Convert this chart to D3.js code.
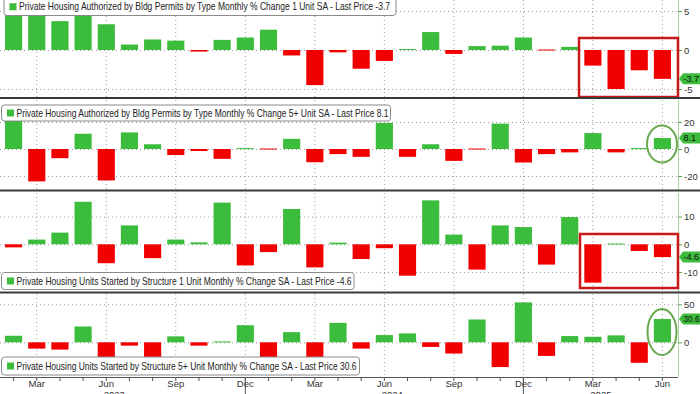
<!DOCTYPE html>
<html>
<head>
<meta charset="utf-8">
<title>Housing permits and starts</title>
<style type="text/css">
    body {
        margin: 0;
        background: #fff;
    }

    svg {
        display: block;
        font-family: "Liberation Sans", Arial, sans-serif;
    }

    .grid line {
        stroke: #9a9a9a;
        stroke-dasharray: 1, 3;
    }

    .up {
        fill: #3cbc3c;
    }

    .down {
        fill: #f20000;
    }

    .raxis path {
        stroke: #a9d9a0;
    }

    .raxis line {
        stroke: #55a855;
    }

    .raxis text {
        font-size: 9.5px;
        fill: #333;
    }

    .legend text {
        font-size: 10.5px;
        fill: #222;
    }
</style>
</head>

<body>
    <script src="https://cdn.jsdelivr.net/npm/d3@7"></script>

    <script type="text/javascript">

        // months shown on the x axis
        var months = ["2023-02", "2023-03", "2023-04", "2023-05", "2023-06", "2023-07", "2023-08", "2023-09",
            "2023-10", "2023-11", "2023-12", "2024-01", "2024-02", "2024-03", "2024-04", "2024-05", "2024-06",
            "2024-07", "2024-08", "2024-09", "2024-10", "2024-11", "2024-12", "2025-01", "2025-02", "2025-03",
            "2025-04", "2025-05", "2025-06"];

        var monthNames = ["Jan", "Feb", "Mar", "Apr", "May", "Jun", "Jul", "Aug", "Sep", "Oct", "Nov", "Dec"];
        var tickMonths = ["2023-03", "2023-06", "2023-09", "2023-12", "2024-03", "2024-06", "2024-09",
            "2024-12", "2025-03", "2025-06"];
        var yearLabels = ["2023", "2024", "2025"];
        var yearAnchors = ["2023-06", "2024-06", "2025-03"];
        var yearBreaks = ["2023-12", "2024-12"];

        // monthly % change series
        var permits1Unit = [8.5, 7.5, 3.7, 5.5, 3.3, 0.7, 1.35, 1.2, -0.2, 1.3, 1.6, 2.6, -0.7, -4.5, -0.3,
            -2.4, -1.4, 0.05, 2.3, -0.5, 0.5, 0.55, 1.6, -0.1, 0.4, -2.0, -5.0, -2.6, -3.7];
        var permits5Unit = [23, -24, -6.8, 11.3, -23.3, 12.3, 3.5, -4.5, -1.5, -7.3, 0.3, -0.3, 7.5, -9.8, -3.8,
            -5.8, 19.3, -5.8, 3.5, -8.8, -0.5, 18.8, -10, -3.8, -2.5, 11.8, -2.5, 0.3, 8.1];
        var starts1Unit = [-1.1, 1.7, 4.2, 15.3, -6.8, 6.8, -5.0, 1.7, 0.7, 15, -7.6, -2.8, 12.7, -8.3, 0.6,
            -5.3, -1.4, -11.3, 15.8, 3.5, -9.1, 6.8, 6.2, -7.3, 9.8, -13.8, 0.1, -2.4, -4.6];
        var starts5Unit = [8.6, -8.3, -9.6, 20.8, -22, -4.4, -24, 7.8, -4.4, 0.5, 22.5, -25, 13.4, -21, 25.6,
            -8.3, 9.5, 11.7, -6.1, -14.8, 30, -32.6, 52.5, -17.9, 8.2, 7.3, 9.1, -27, 30.6];

        var legendTexts = [
            "Private Housing Authorized by Bldg Permits by Type Monthly % Change 1 Unit SA - Last Price -3.7",
            "Private Housing Authorized by Bldg Permits by Type Monthly % Change 5+ Unit SA - Last Price 8.1",
            "Private Housing Units Started by Structure 1 Unit Monthly % Change SA - Last Price -4.6",
            "Private Housing Units Started by Structure 5+ Unit Monthly % Change SA - Last Price 30.6"];
        var lastPrices = ["-3.7", "8.1", "-4.6", "30.6"];

        var width = 700, height = 394, axisX = 678;

        var panels = [
            { values: permits1Unit, top: 0, bottom: 97, zero: 50, unit: 7.8, ticks: [5, 0, -5],
              legend: { x: 4, y: -2, w: 392, h: 17.5, tw: 371 }, mark: "box", markBox: [579, 38, 99, 59] },
            { values: permits5Unit, top: 100, bottom: 190, zero: 149, unit: 1.35, ticks: [20, 0, -20],
              legend: { x: 1.5, y: 105, w: 389, h: 16, tw: 372 }, mark: "ellipse", markBox: [662, 144, 15, 18.5] },
            { values: starts1Unit, top: 193, bottom: 292, zero: 244.3, unit: 2.78, ticks: [10, 0, -10],
              legend: { x: 1.5, y: 272.5, w: 352.5, h: 17, tw: 335 }, mark: "box", markBox: [580, 234, 98, 54] },
            { values: starts5Unit, top: 294, bottom: 377, zero: 342.3, unit: 0.76, ticks: [50, 0],
              legend: { x: 1.5, y: 357, w: 358, h: 18, tw: 340 }, mark: "ellipse", markBox: [662, 332, 14.5, 23] }
        ];

        var svg = d3.select("body").append("svg")
            .attr("width", width)
            .attr("height", height);

        var x = d3.scaleBand()
            .domain(months)
            .range([2, 674])
            .paddingInner(0.26)
            .paddingOuter(0.13);

        function cx(m) { return x(m) + x.bandwidth() / 2; }

        panels.forEach(function (p, i) {

            var y = d3.scaleLinear()
                .domain([(p.zero - p.bottom) / p.unit, (p.zero - p.top) / p.unit])
                .range([p.bottom, p.top]);

            var g = svg.append("g");

            svg.append("clipPath")
                .attr("id", "clip" + i)
                .append("rect")
                .attr("x", 0).attr("y", p.top)
                .attr("width", axisX).attr("height", p.bottom - p.top);

            // dotted grid
            var grid = g.append("g").attr("class", "grid");
            grid.selectAll(".h")
                .data(p.ticks)
                .enter().append("line")
                .attr("x1", 0).attr("x2", axisX)
                .attr("y1", function (d) { return y(d) + 0.5; })
                .attr("y2", function (d) { return y(d) + 0.5; });
            grid.selectAll(".v")
                .data(tickMonths)
                .enter().append("line")
                .attr("x1", function (d) { return cx(d); })
                .attr("x2", function (d) { return cx(d); })
                .attr("y1", p.top).attr("y2", p.bottom);

            // bars
            g.append("g")
                .attr("clip-path", "url(#clip" + i + ")")
                .selectAll("rect")
                .data(p.values)
                .enter().append("rect")
                .attr("class", function (d) { return d >= 0 ? "up" : "down"; })
                .attr("x", function (d, j) { return x(months[j]); })
                .attr("width", x.bandwidth())
                .attr("y", function (d) { return Math.min(y(d), y(0)) - (Math.abs(y(d) - y(0)) < 1 ? 0.5 : 0); })
                .attr("height", function (d) { return Math.max(1, Math.abs(y(d) - y(0))); });

            // right axis
            var axis = d3.axisRight(y)
                .tickValues(p.ticks)
                .tickSize(4)
                .tickPadding(2)
                .tickFormat(function (d) { return String(d); });

            g.append("g")
                .attr("class", "raxis")
                .attr("transform", "translate(" + axisX + ",0)")
                .call(axis)
                .call(function (s) {
                    s.select(".domain").attr("d", "M0.5," + p.top + "V" + p.bottom);
                });

            // highlight marks
            var mb = p.markBox;
            if (p.mark === "box") {
                g.append("rect")
                    .attr("x", mb[0]).attr("y", mb[1])
                    .attr("width", mb[2]).attr("height", mb[3])
                    .style("fill", "none")
                    .style("stroke", "#c81818")
                    .style("stroke-width", 2.5);
            } else {
                g.append("ellipse")
                    .attr("cx", mb[0]).attr("cy", mb[1])
                    .attr("rx", mb[2]).attr("ry", mb[3])
                    .style("fill", "none")
                    .style("stroke", "#6aa84f")
                    .style("stroke-width", 2);
            }

            // last price tag
            var last = p.values[p.values.length - 1];
            var ty = y(last);
            var tag = g.append("g").attr("transform", "translate(0," + ty + ")");
            tag.append("path")
                .attr("d", "M679,0 L683,-5.5 H702 V5.5 H683 Z")
                .style("fill", "#3dbb3d");
            var tt = tag.append("text")
                .attr("x", 683.5).attr("y", 3.3)
                .style("font-size", "9px")
                .style("fill", "#111")
                .text(lastPrices[i]);
            if (tt.node().getComputedTextLength() > 16) {
                tt.attr("textLength", 16).attr("lengthAdjust", "spacingAndGlyphs");
            }

            // legend box
            var L = p.legend;
            var lg = g.append("g").attr("class", "legend");
            lg.append("rect")
                .attr("x", L.x).attr("y", L.y)
                .attr("width", L.w).attr("height", L.h)
                .attr("rx", 3)
                .style("fill", "#fff")
                .style("stroke", "#8a8a8a");
            lg.append("rect")
                .attr("x", L.x + 5.5).attr("y", L.y + L.h / 2 - 3.5)
                .attr("width", 7).attr("height", 7)
                .style("fill", "#3cbc3c");
            lg.append("text")
                .attr("x", L.x + 15).attr("y", L.y + L.h / 2 + 3.7)
                .attr("textLength", L.tw)
                .attr("lengthAdjust", "spacingAndGlyphs")
                .text(legendTexts[i]);
        });

        // panel separators
        svg.selectAll(".sep")
            .data([98, 190.5, 292.5])
            .enter().append("rect")
            .attr("x", 0).attr("width", width)
            .attr("y", function (d) { return d - 1; })
            .attr("height", 2)
            .style("fill", "#3a3a3a");

        // bottom time axis
        var bx = svg.append("g");
        bx.append("line")
            .attr("x1", 0).attr("x2", axisX)
            .attr("y1", 377.5).attr("y2", 377.5)
            .style("stroke", "#555");
        bx.selectAll(".mt")
            .data(months)
            .enter().append("line")
            .attr("x1", function (d) { return cx(d); })
            .attr("x2", function (d) { return cx(d); })
            .attr("y1", 377.5).attr("y2", 381)
            .style("stroke", "#555");
        bx.selectAll(".yb")
            .data(yearBreaks)
            .enter().append("line")
            .attr("x1", function (d) { return cx(d); })
            .attr("x2", function (d) { return cx(d); })
            .attr("y1", 377.5).attr("y2", 394)
            .style("stroke", "#555");
        bx.selectAll(".ml")
            .data(tickMonths)
            .enter().append("text")
            .attr("x", function (d) { return cx(d); })
            .attr("y", 387)
            .attr("text-anchor", "middle")
            .style("font-size", "9.5px")
            .style("fill", "#333")
            .text(function (d) { return monthNames[+d.slice(5) - 1]; });
        bx.selectAll(".yl")
            .data(yearLabels)
            .enter().append("text")
            .attr("x", function (d, j) { return cx(yearAnchors[j]) + 8; })
            .attr("y", 398)
            .attr("text-anchor", "middle")
            .style("font-size", "9.5px")
            .style("fill", "#333")
            .text(function (d) { return d; });

    </script>
</body>

</html>
